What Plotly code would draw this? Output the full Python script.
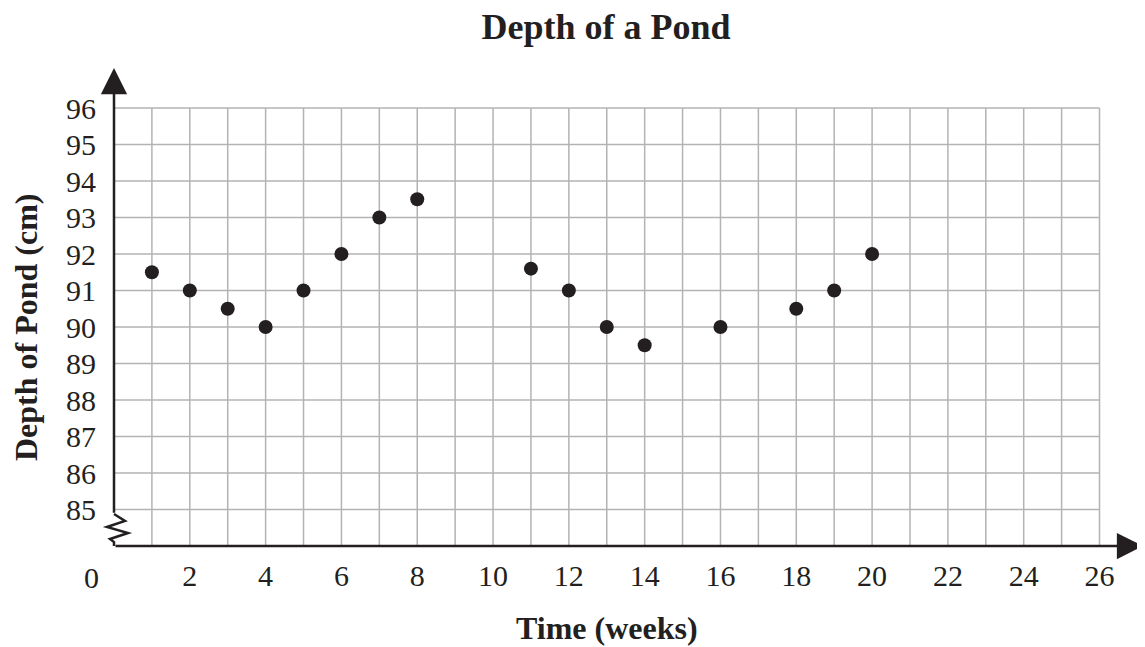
import plotly.graph_objects as go

# values
weeks = [1, 2, 3, 4, 5, 6, 7, 8, 11, 12, 13, 14, 16, 18, 19, 20]
depth = [91.5, 91, 90.5, 90, 91, 92, 93, 93.5, 91.6, 91, 90, 89.5, 90, 90.5, 91, 92]
x_ticks = list(range(2, 27, 2))
y_ticks = list(range(85, 97))

ink = "#231f20"
grid = "#b3b3b3"
serif = "Liberation Serif"

fig = go.Figure()
fig.add_trace(go.Scatter(x=weeks, y=depth, mode="markers",
                         marker=dict(size=14, color=ink), hoverinfo="x+y"))

shapes = []
# grid
for gx in range(1, 27):
    shapes.append(dict(type="line", x0=gx, x1=gx, y0=84, y1=96,
                       line=dict(color=grid, width=1.5), layer="below"))
for gy in y_ticks:
    shapes.append(dict(type="line", x0=0, x1=26, y0=gy, y1=gy,
                       line=dict(color=grid, width=1.5), layer="below"))
# axis break zigzag (pixel offsets from the bottom-left corner of the plot)
shapes.append(dict(type="path", xref="paper", yref="paper",
                   xsizemode="pixel", ysizemode="pixel", xanchor=0, yanchor=0,
                   path="M0,32 L11,25 L-7,19 L14,13 L-4,7 L0,4 L0,0",
                   line=dict(color=ink, width=2.5)))

annotations = [
    # x axis with arrow
    dict(x=27.15, y=84, ax=0, ay=84, xref="x", yref="y", axref="x", ayref="y",
         text="", showarrow=True, arrowhead=2, arrowsize=2.1, arrowwidth=2.5,
         arrowcolor=ink),
    # y axis with arrow
    dict(x=0, y=97.1, ax=0, ay=84.87, xref="x", yref="y", axref="x", ayref="y",
         text="", showarrow=True, arrowhead=2, arrowsize=2.1, arrowwidth=2.5,
         arrowcolor=ink),
    dict(x=0, y=84, xref="x", yref="y", text="0", showarrow=False,
         xshift=-23, yshift=-31, yanchor="middle",
         font=dict(family=serif, size=30, color=ink)),
    dict(x=13, y=84, xref="x", yref="y", text="<b>Time (weeks)</b>", showarrow=False,
         yshift=-82, yanchor="middle",
         font=dict(family=serif, size=32, color=ink)),
    dict(x=0, y=90, xref="x", yref="y", text="<b>Depth of Pond (cm)</b>",
         showarrow=False, textangle=-90, xshift=-88, xanchor="center",
         font=dict(family=serif, size=32, color=ink)),
]

fig.update_layout(
    width=1137, height=639,
    margin=dict(l=106, r=0, t=57, b=101),
    plot_bgcolor="white", paper_bgcolor="white",
    showlegend=False,
    shapes=shapes, annotations=annotations,
    title=dict(text="<b>Depth of a Pond</b>", x=0.526, xref="container",
               y=1 - 18 / 639, yref="container", xanchor="center", yanchor="middle",
               font=dict(family=serif, size=36, color=ink)),
)
fig.update_xaxes(range=[0, 27.2], showgrid=False, zeroline=False, showline=False,
                 automargin=False,
                 tickvals=x_ticks, ticktext=[str(v) for v in x_ticks], ticks="",
                 ticklabelstandoff=9,
                 tickfont=dict(family=serif, size=30, color=ink))
fig.update_yaxes(range=[84, 97.18], showgrid=False, zeroline=False, showline=False,
                 automargin=False,
                 tickvals=y_ticks, ticktext=[str(v) for v in y_ticks], ticks="",
                 ticklabelstandoff=17,
                 tickfont=dict(family=serif, size=30, color=ink))

fig.write_html("out.html")
